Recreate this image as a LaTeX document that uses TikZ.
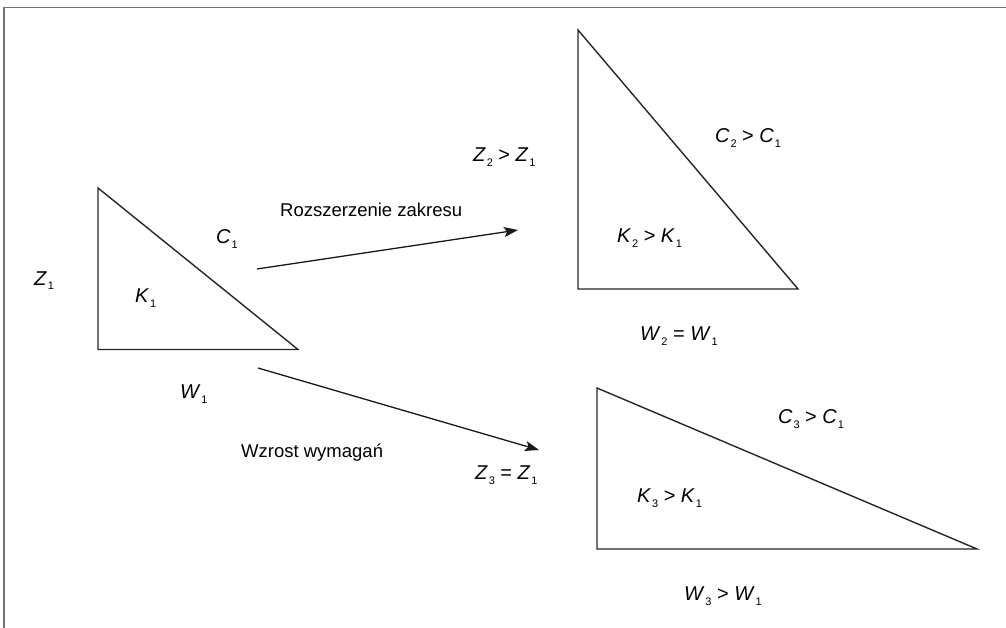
\documentclass[tikz,border=0pt]{standalone}
\usepackage{fontspec}
\setmainfont{Liberation Sans}
\usetikzlibrary{arrows.meta}
\newcommand{\vsub}[2]{\textit{#1}\kern0.8pt\raisebox{-5pt}{\fontsize{11}{11}\selectfont #2}}
\begin{document}
\begin{tikzpicture}[x=1pt,y=-1pt,
  tri/.style={line width=1.4pt, draw=black!85, line join=miter},
  conn/.style={line width=1.3pt, draw=black!90, -{Stealth[length=14pt,width=10pt,inset=3pt]}},
  lbl/.style={anchor=base west, inner sep=0pt, font=\fontsize{20}{20}\selectfont},
  txt/.style={anchor=base west, inner sep=0pt, font=\fontsize{18.5}{20}\selectfont},
  frame/.style={draw=black!55, line width=1.5pt}]
\useasboundingbox (0,0) rectangle (1006,628);
\coordinate (fb) at (4,640);
\coordinate (fc) at (4,7.5);
\coordinate (fr) at (1012,7.5);
\draw[frame] (fb) -- (fc) -- (fr);

% triangle 1
\coordinate (a1) at (98,188);
\coordinate (b1) at (98,349.5);
\coordinate (c1) at (298,349.5);
\draw[tri] (a1) -- (b1) -- (c1) -- cycle;
% triangle 2
\coordinate (a2) at (578,30);
\coordinate (b2) at (578,289);
\coordinate (c2) at (798,289);
\draw[tri] (a2) -- (b2) -- (c2) -- cycle;
% triangle 3
\coordinate (a3) at (597,388);
\coordinate (b3) at (597,549);
\coordinate (c3) at (977,549);
\draw[tri] (a3) -- (b3) -- (c3) -- cycle;

% arrows
\coordinate (s1) at (257,269);
\coordinate (e1) at (518,230);
\draw[conn] (s1) -- (e1);
\coordinate (s2) at (258,368);
\coordinate (e2) at (539,450);
\draw[conn] (s2) -- (e2);

% labels
\node[lbl] (z1) at (34,285) {\vsub{Z}{1}};
\node[lbl] (k1) at (135,302) {\vsub{K}{1}};
\node[lbl] (cc1) at (216,244) {\vsub{C}{1}};
\node[lbl] (w1) at (180,398) {\vsub{W}{1}};

\node[txt] (t1) at (280,217) {Rozszerzenie zakresu};
\node[txt] (t2) at (241,457) {Wzrost wymagań};

\node[lbl] (z2) at (473,162) {\vsub{Z}{2} > \vsub{Z}{1}};
\node[lbl] (cc2) at (715,143) {\vsub{C}{2} > \vsub{C}{1}};
\node[lbl] (k2) at (617,243) {\vsub{K}{2} > \vsub{K}{1}};
\node[lbl] (w2) at (640,340) {\vsub{W}{2} = \vsub{W}{1}};

\node[lbl] (z3) at (475,479) {\vsub{Z}{3} = \vsub{Z}{1}};
\node[lbl] (cc3) at (778,423) {\vsub{C}{3} > \vsub{C}{1}};
\node[lbl] (k3) at (637,502) {\vsub{K}{3} > \vsub{K}{1}};
\node[lbl] (w3) at (684,600) {\vsub{W}{3} > \vsub{W}{1}};
\end{tikzpicture}
\end{document}
